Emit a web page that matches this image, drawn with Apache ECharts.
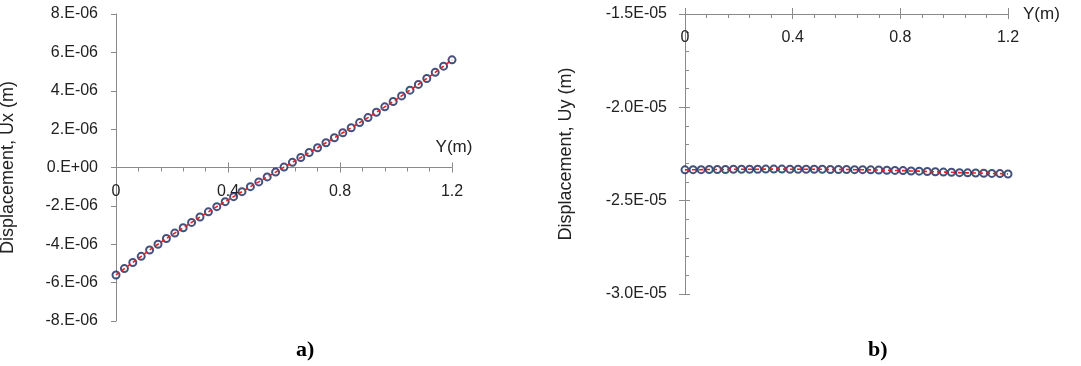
<!DOCTYPE html>
<html>
  <head>
    <meta charset="UTF-8" />
    <title>displacement</title>
    <style>
      html,
      body {
        margin: 0;
        padding: 0;
        background: #fff;
      }
      #main {
        width: 1081px;
        height: 366px;
      }
    </style>
    <script src="https://cdn.jsdelivr.net/npm/echarts@6/dist/echarts.min.js"></script>
  </head>
  <body>
    <div id="main"></div>
    <script>
      // position along Y (m)
      var ys = [
        0, 0.03, 0.06, 0.09, 0.12, 0.15, 0.18, 0.21, 0.24, 0.27, 0.3, 0.33,
        0.36, 0.39, 0.42, 0.45, 0.48, 0.51, 0.54, 0.57, 0.6, 0.63, 0.66, 0.69,
        0.72, 0.75, 0.78, 0.81, 0.84, 0.87, 0.9, 0.93, 0.96, 0.99, 1.02, 1.05,
        1.08, 1.11, 1.14, 1.17, 1.2,
      ];
      // a) Ux (m) - circles and dashed line
      var uxDots = [
        -5.6e-6, -5.27e-6, -4.95e-6, -4.63e-6, -4.3e-6, -4.0e-6, -3.7e-6,
        -3.42e-6, -3.14e-6, -2.86e-6, -2.58e-6, -2.31e-6, -2.04e-6, -1.78e-6,
        -1.52e-6, -1.26e-6, -1.0e-6, -0.75e-6, -0.49e-6, -0.24e-6, 0.02e-6,
        0.27e-6, 0.52e-6, 0.78e-6, 1.03e-6, 1.29e-6, 1.55e-6, 1.81e-6, 2.07e-6,
        2.34e-6, 2.6e-6, 2.88e-6, 3.16e-6, 3.44e-6, 3.73e-6, 4.03e-6, 4.33e-6,
        4.64e-6, 4.96e-6, 5.28e-6, 5.61e-6,
      ];
      var uxLine = [
        -5.6e-6, -5.27e-6, -4.95e-6, -4.63e-6, -4.3e-6, -4.0e-6, -3.7e-6,
        -3.42e-6, -3.14e-6, -2.86e-6, -2.58e-6, -2.31e-6, -2.04e-6, -1.78e-6,
        -1.52e-6, -1.26e-6, -1.0e-6, -0.75e-6, -0.49e-6, -0.24e-6, 0.02e-6,
        0.27e-6, 0.52e-6, 0.78e-6, 1.03e-6, 1.29e-6, 1.55e-6, 1.81e-6, 2.07e-6,
        2.34e-6, 2.6e-6, 2.88e-6, 3.16e-6, 3.44e-6, 3.73e-6, 4.03e-6, 4.33e-6,
        4.64e-6, 4.96e-6, 5.28e-6, 5.61e-6,
      ];
      // b) Uy (m)
      var uyDots = [
        -2.335e-5, -2.334e-5, -2.334e-5, -2.333e-5, -2.333e-5, -2.333e-5,
        -2.332e-5, -2.332e-5, -2.332e-5, -2.332e-5, -2.331e-5, -2.331e-5,
        -2.331e-5, -2.332e-5, -2.332e-5, -2.332e-5, -2.332e-5, -2.332e-5,
        -2.333e-5, -2.333e-5, -2.333e-5, -2.334e-5, -2.334e-5, -2.335e-5,
        -2.336e-5, -2.337e-5, -2.338e-5, -2.339e-5, -2.341e-5, -2.342e-5,
        -2.344e-5, -2.345e-5, -2.347e-5, -2.348e-5, -2.35e-5, -2.351e-5,
        -2.352e-5, -2.353e-5, -2.354e-5, -2.355e-5, -2.357e-5,
      ];
      var uyLine = [
        -2.335e-5, -2.334e-5, -2.334e-5, -2.333e-5, -2.333e-5, -2.333e-5,
        -2.332e-5, -2.332e-5, -2.332e-5, -2.332e-5, -2.331e-5, -2.331e-5,
        -2.331e-5, -2.332e-5, -2.332e-5, -2.332e-5, -2.332e-5, -2.332e-5,
        -2.333e-5, -2.333e-5, -2.333e-5, -2.334e-5, -2.334e-5, -2.335e-5,
        -2.336e-5, -2.337e-5, -2.338e-5, -2.339e-5, -2.341e-5, -2.342e-5,
        -2.344e-5, -2.345e-5, -2.347e-5, -2.348e-5, -2.35e-5, -2.351e-5,
        -2.352e-5, -2.353e-5, -2.354e-5, -2.355e-5, -2.357e-5,
      ];
      var panelTags = ["a)", "b)"];

      function pairs(xs, vs) {
        return xs.map(function (x, i) {
          return [x, vs[i]];
        });
      }

      var axisGray = "#8a8a8a";
      var txt = "#222";
      var font = "Liberation Sans";
      // a) the Y(m) axis sits on Ux = 0, half way up a 307px tall grid
      var zeroShift = -153.5;

      var myChart = echarts.init(document.getElementById("main"));

      var option = {
        animation: false,
        backgroundColor: "#fff",
        grid: [
          { left: 116, top: 14, width: 336, height: 307, outerBoundsMode: "none" },
          { left: 685, top: 14, width: 323, height: 280, outerBoundsMode: "none" },
        ],
        xAxis: [
          {
            // a) main x axis
            type: "value",
            gridIndex: 0,
            min: 0,
            max: 1.2,
            interval: 0.4,
            position: "bottom",
            offset: zeroShift,
            name: "Y(m)",
            nameLocation: "end",
            nameGap: 2,
            nameTextStyle: {
              color: txt,
              fontFamily: font,
              fontSize: 17,
              align: "center",
              verticalAlign: "bottom",
              padding: [0, 0, 12, 0],
            },
            axisLine: { show: true, onZero: false, lineStyle: { color: axisGray } },
            axisTick: { show: true, length: 5, lineStyle: { color: axisGray } },
            minorTick: { show: true, splitNumber: 5, length: 4, lineStyle: { color: axisGray } },
            axisLabel: { margin: 16, color: txt, fontFamily: font, fontSize: 16 },
            splitLine: { show: false },
          },
          {
            // a) upward half of the major ticks
            type: "value",
            gridIndex: 0,
            min: 0,
            max: 1.2,
            interval: 0.4,
            position: "bottom",
            offset: zeroShift,
            axisLine: { show: false, onZero: false },
            axisTick: { show: true, inside: true, length: 5, lineStyle: { color: axisGray } },
            axisLabel: { show: false },
            splitLine: { show: false },
          },
          {
            // b) main x axis at the top
            type: "value",
            gridIndex: 1,
            min: 0,
            max: 1.2,
            interval: 0.4,
            position: "top",
            name: "Y(m)",
            nameLocation: "end",
            nameGap: 15,
            nameTextStyle: { color: txt, fontFamily: font, fontSize: 17 },
            axisLine: { show: true, onZero: false, lineStyle: { color: axisGray } },
            axisTick: { show: true, inside: true, length: 5, lineStyle: { color: axisGray } },
            minorTick: { show: true, splitNumber: 5, length: 4, lineStyle: { color: axisGray } },
            axisLabel: { inside: true, margin: 16, color: txt, fontFamily: font, fontSize: 16 },
            splitLine: { show: false },
          },
          {
            type: "value",
            gridIndex: 1,
            min: 0,
            max: 1.2,
            interval: 0.4,
            position: "top",
            axisLine: { show: false, onZero: false },
            axisTick: { show: true, length: 6, lineStyle: { color: axisGray } },
            axisLabel: { show: false },
            splitLine: { show: false },
          },
        ],
        yAxis: [
          {
            type: "value",
            gridIndex: 0,
            position: "left",
            min: -8e-6,
            max: 8e-6,
            interval: 2e-6,
            name: "Displacement, Ux (m)",
            nameLocation: "middle",
            nameGap: 99,
            nameTextStyle: { color: txt, fontFamily: font, fontSize: 18 },
            axisLine: { show: true, onZero: false, lineStyle: { color: axisGray } },
            axisTick: { show: true, length: 5, lineStyle: { color: axisGray } },
            axisLabel: {
              margin: 18,
              color: txt,
              fontFamily: font,
              fontSize: 16,
              formatter: function (v) {
                var n = Math.round(v * 1e6);
                return n === 0 ? "0.E+00" : n + ".E-06";
              },
            },
            splitLine: { show: false },
          },
          {
            // b) main y axis
            type: "value",
            gridIndex: 1,
            position: "left",
            min: -3e-5,
            max: -1.5e-5,
            interval: 0.5e-5,
            name: "Displacement, Uy (m)",
            nameLocation: "middle",
            nameGap: 110,
            nameTextStyle: { color: txt, fontFamily: font, fontSize: 18 },
            axisLine: { show: true, onZero: false, lineStyle: { color: axisGray } },
            axisTick: { show: true, inside: true, length: 5, lineStyle: { color: axisGray } },
            minorTick: { show: true, splitNumber: 5, length: 4, lineStyle: { color: axisGray } },
            axisLabel: {
              margin: 18,
              color: txt,
              fontFamily: font,
              fontSize: 16,
              formatter: function (v) {
                return (v * 1e5).toFixed(1) + "E-05";
              },
            },
            splitLine: { show: false },
          },
          {
            // b) outward half of the major ticks
            type: "value",
            gridIndex: 1,
            position: "left",
            min: -3e-5,
            max: -1.5e-5,
            interval: 0.5e-5,
            axisLine: { show: false, onZero: false },
            axisTick: { show: true, length: 6, lineStyle: { color: axisGray } },
            axisLabel: { show: false },
            splitLine: { show: false },
          },
        ],
        series: [
          {
            type: "scatter",
            xAxisIndex: 0,
            yAxisIndex: 0,
            symbol: "emptyCircle",
            symbolSize: 7,
            itemStyle: { color: "#16265c", borderWidth: 2 },
            data: pairs(ys, uxDots),
            z: 2,
          },
          {
            type: "line",
            xAxisIndex: 0,
            yAxisIndex: 0,
            showSymbol: false,
            lineStyle: { color: "#ee1c1c", width: 1.6, type: [4, 3] },
            data: pairs(ys, uxLine),
            z: 3,
          },
          {
            type: "scatter",
            xAxisIndex: 2,
            yAxisIndex: 1,
            symbol: "emptyCircle",
            symbolSize: 7,
            itemStyle: { color: "#16265c", borderWidth: 2 },
            data: pairs(ys, uyDots),
            z: 2,
          },
          {
            type: "line",
            xAxisIndex: 2,
            yAxisIndex: 1,
            showSymbol: false,
            lineStyle: { color: "#ee1c1c", width: 1.6, type: [4, 3] },
            data: pairs(ys, uyLine),
            z: 3,
          },
        ],
        graphic: [
          {
            type: "text",
            left: 296,
            top: 339,
            style: {
              text: panelTags[0],
              font: "bold 22px 'Liberation Serif'",
              fill: "#000",
            },
          },
          {
            type: "text",
            left: 868,
            top: 339,
            style: {
              text: panelTags[1],
              font: "bold 22px 'Liberation Serif'",
              fill: "#000",
            },
          },
        ],
      };

      myChart.setOption(option);
    </script>
  </body>
</html>
